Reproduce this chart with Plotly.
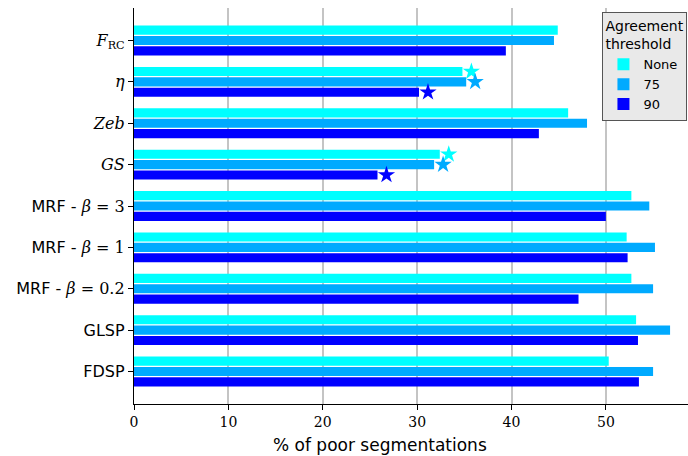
import plotly.graph_objects as go

# Methods (top to bottom) and their percentage of poor segmentations
methods = [
    "<i>F</i><sub>RC</sub>",
    "<i>η</i>",
    "<i>Zeb</i>",
    "<i>GS</i>",
    "<span style='font-family:DejaVu Sans'>MRF - </span><i>β</i> = 3",
    "<span style='font-family:DejaVu Sans'>MRF - </span><i>β</i> = 1",
    "<span style='font-family:DejaVu Sans'>MRF - </span><i>β</i> = 0.2",
    "<span style='font-family:DejaVu Sans'>GLSP</span>",
    "<span style='font-family:DejaVu Sans'>FDSP</span>",
]
thresholds = ["None", "75", "90"]
values_none = [44.9, 34.8, 46.0, 32.4, 52.7, 52.2, 52.7, 53.2, 50.3]
values_75 = [44.5, 35.2, 48.0, 31.8, 54.6, 55.2, 55.0, 56.8, 55.0]
values_90 = [39.4, 30.2, 42.9, 25.8, 50.0, 52.3, 47.1, 53.4, 53.5]
# methods flagged with a star (indices into `methods`)
starred = [1, 3]

colors = ["#00FFFF", "#00AAFF", "#0000FF"]
series = [values_none, values_75, values_90]
offsets = [-0.25, 0.0, 0.25]
star_gap = 0.95

positions = list(range(len(methods)))

fig = go.Figure()
for name, vals, col in zip(thresholds, series, colors):
    fig.add_trace(go.Bar(
        x=vals, y=positions, orientation="h", name=name,
        marker=dict(color=col, line=dict(width=0)),
    ))

for vals, col, off in zip(series, colors, offsets):
    fig.add_trace(go.Scatter(
        x=[vals[i] + star_gap for i in starred],
        y=[positions[i] + off for i in starred],
        mode="markers", showlegend=False, hoverinfo="skip",
        marker=dict(symbol="star", size=13, color=col, line=dict(width=0)),
    ))

fig.update_layout(
    width=688, height=456,
    margin=dict(l=134, r=0, t=8, b=52),
    plot_bgcolor="white", paper_bgcolor="white",
    barmode="group", bargap=0.25, bargroupgap=0.12,
    font=dict(family="DejaVu Serif", color="black"),
    xaxis=dict(
        range=[0, 58.7], tickvals=[0, 10, 20, 30, 40, 50],
        showgrid=True, gridcolor="#c4c4c4", gridwidth=1.5,
        showline=True, linecolor="black", linewidth=1.3,
        ticks="outside", ticklen=5, tickcolor="black",
        tickfont=dict(family="DejaVu Serif", size=14),
        zeroline=False,
    ),
    yaxis=dict(
        range=[8.785, -0.785], tickvals=positions, ticktext=methods,
        showgrid=False, zeroline=False,
        showline=True, linecolor="black", linewidth=1.3,
        ticks="outside", ticklen=5, tickcolor="black",
        tickfont=dict(family="DejaVu Serif", size=16),
    ),
    legend=dict(
        x=0.999, y=0.99, xanchor="right", yanchor="top",
        bgcolor="#e9e9e9", bordercolor="#555555", borderwidth=1,
        title=dict(text="Agreement<br>threshold",
                   font=dict(family="DejaVu Sans", size=14)),
        font=dict(family="DejaVu Sans", size=13),
        itemwidth=30, tracegroupgap=0,
    ),
    annotations=[dict(
        text="% of poor segmentations", xref="paper", yref="paper",
        x=0.444, y=-0.072, xanchor="center", yanchor="top", showarrow=False,
        font=dict(family="DejaVu Sans", size=17),
    )],
)

fig.write_html("out.html")
